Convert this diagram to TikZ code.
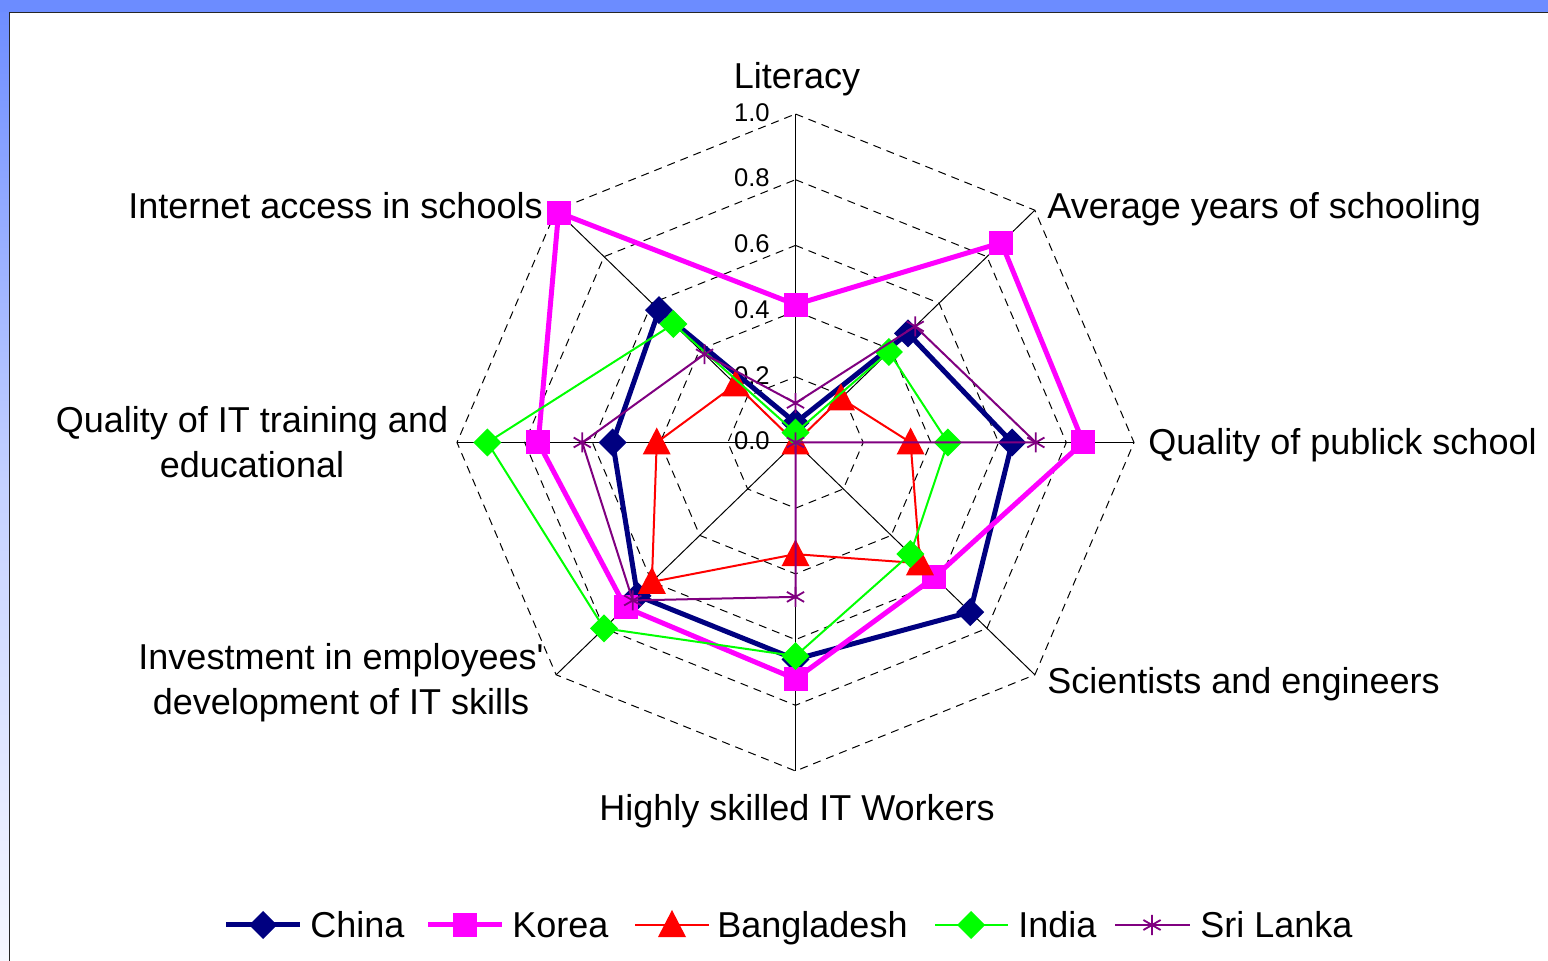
\documentclass[tikz,border=0pt]{standalone}
\usepackage{fontspec}
\setmainfont{Liberation Sans}
\newfontfamily\plainsans{Liberation Sans}
\definecolor{cnavy}{HTML}{000080}
\definecolor{cmag}{HTML}{FF00FF}
\definecolor{cred}{HTML}{FF0000}
\definecolor{cgreen}{HTML}{00FF00}
\definecolor{cpurp}{HTML}{800080}
\definecolor{topblue}{HTML}{6C8CFF}
\definecolor{palebl}{HTML}{F6F7FF}
\tikzset{
  pics/mdia/.style={code={\fill[#1] (0,7pt)--(7pt,0)--(0,-7pt)--(-7pt,0)--cycle;}},
  pics/msq/.style={code={\fill[#1] (-6pt,-6pt) rectangle (6pt,6pt);}},
  pics/mtri/.style={code={\fill[#1] (0,7.5pt)--(7pt,-6pt)--(-7pt,-6pt)--cycle;}},
  pics/mstar/.style={code={\draw[#1,line width=0.9pt] (0,-5pt)--(0,5pt) (-4.3pt,-2.5pt)--(4.3pt,2.5pt) (-4.3pt,2.5pt)--(4.3pt,-2.5pt);}},
  lbl/.style={inner sep=0pt, font=\plainsans\fontsize{18}{22.5}\selectfont, text height=12.9pt, text depth=0pt},
  lbltwo/.style={inner sep=0pt, font=\plainsans\fontsize{18}{22.5}\selectfont, align=center},
  ticklbl/.style={inner sep=0pt, font=\plainsans\fontsize{12.8}{15}\selectfont, text height=9.2pt, text depth=0pt, anchor=east},
  gridl/.style={black, line width=0.5pt, dash pattern=on 4pt off 3pt},
  spoke/.style={black, line width=0.5pt},
  sChina/.style={cnavy, line width=2.5pt, line join=round},
  sKorea/.style={cmag, line width=2.5pt, line join=round},
  sBangla/.style={cred, line width=1pt, line join=round},
  sIndia/.style={cgreen, line width=1pt, line join=round},
  sLanka/.style={cpurp, line width=1pt, line join=round},
}
\newcommand\radarseries[5]{%
  \foreach \v [count=\i from 0] in {#2} {\coordinate (#1\i) at ({90-45*\i}:\v);}
  \draw[#3] (#10) -- (#11) -- (#12) -- (#13) -- (#14) -- (#15) -- (#16) -- (#17) -- cycle;
  \foreach \i in {0,...,7} {\pic at (#1\i) {#4=#5};}
}
\begin{document}
\begin{tikzpicture}[x=0.5pt,y=-0.5pt]
\useasboundingbox (0,0) rectangle (1548,961);
\fill[white] (0,0) rectangle (1548,961);
\shade[top color=topblue, bottom color=palebl, middle color=topblue!40!white] (0,0) rectangle (9,961);
\fill[topblue] (0,0) rectangle (1548,12);
\draw[line width=0.9pt, black!85] (9.5,961) -- (9.5,12.5) -- (1548,12.5);

\begin{scope}[shift={(795.5,442.5)}, x=169.25pt, y=164.25pt]
  \foreach \r in {0.2,0.4,0.6,0.8,1.0}
    \draw[gridl] (90:\r) -- (45:\r) -- (0:\r) -- (-45:\r) -- (-90:\r) -- (-135:\r) -- (180:\r) -- (135:\r) -- cycle;
  \foreach \a in {90,45,0,-45,-90,-135,180,135}
    \draw[spoke] (0,0) -- (\a:1);
  \foreach \v [count=\k] in {0.0,0.2,0.4,0.6,0.8,1.0}
    \node[ticklbl] (tick\k) at ({-0.0753},{\v+0.006}) {\v};

  \radarseries{ch}{0.06,0.47,0.64,0.73,0.66,0.66,0.54,0.57}{sChina}{mdia}{cnavy}
  \radarseries{ko}{0.42,0.86,0.85,0.58,0.72,0.71,0.76,0.99}{sKorea}{msq}{cmag}
  \radarseries{bd}{0.0,0.19,0.34,0.52,0.34,0.60,0.41,0.25}{sBangla}{mtri}{cred}
  \radarseries{in}{0.03,0.39,0.45,0.48,0.65,0.80,0.91,0.51}{sIndia}{mdia}{cgreen}
  \radarseries{sl}{0.12,0.50,0.71,0.0,0.47,0.68,0.63,0.38}{sLanka}{mstar}{cpurp}
\end{scope}

% axis labels
\node[lbl] (lit) at (797,76) {Literacy};
\node[lbl, anchor=west] (avg) at (1047,206) {Average years of schooling};
\node[lbl, anchor=west] (qps) at (1148,442) {Quality of publick school};
\node[lbl, anchor=west] (sci) at (1047,681) {Scientists and engineers};
\node[lbl] (hsk) at (797,808) {Highly skilled IT Workers};
\node[lbltwo] (inv) at (341,683) {Investment in employees'\\development of IT skills};
\node[lbltwo] (qit) at (252,442) {Quality of IT training and\\educational};
\node[lbl, anchor=east] (ias) at (543,206) {Internet access in schools};

% legend
\coordinate (lgA1) at (226,925); \coordinate (lgA2) at (300,925); \coordinate (lgAm) at (263,925);
\coordinate (lgB1) at (428,925); \coordinate (lgB2) at (502,925); \coordinate (lgBm) at (465,925);
\coordinate (lgC1) at (635,925); \coordinate (lgC2) at (709,925); \coordinate (lgCm) at (672,925);
\coordinate (lgD1) at (935,925); \coordinate (lgD2) at (1008,925); \coordinate (lgDm) at (971,925);
\coordinate (lgE1) at (1115,925); \coordinate (lgE2) at (1190,925); \coordinate (lgEm) at (1152,925);
\draw[sChina] (lgA1) -- (lgA2); \pic at (lgAm) {mdia=cnavy};
\draw[sKorea] (lgB1) -- (lgB2); \pic at (lgBm) {msq=cmag};
\draw[sBangla] (lgC1) -- (lgC2); \pic at (lgCm) {mtri=cred};
\draw[sIndia] (lgD1) -- (lgD2); \pic at (lgDm) {mdia=cgreen};
\draw[sLanka] (lgE1) -- (lgE2); \pic at (lgEm) {mstar=cpurp};
\node[lbl, anchor=west] (lgChina) at (310,925) {China};
\node[lbl, anchor=west] (lgKorea) at (512,925) {Korea};
\node[lbl, anchor=west] (lgBangla) at (717,925) {Bangladesh};
\node[lbl, anchor=west] (lgIndia) at (1018,925) {India};
\node[lbl, anchor=west] (lgLanka) at (1200,925) {Sri Lanka};
\end{tikzpicture}
\end{document}
